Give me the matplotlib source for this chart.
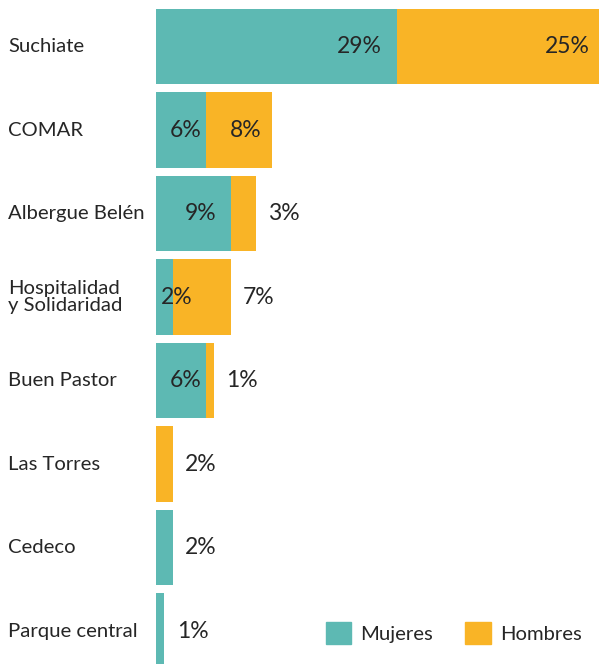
import numpy as np
import matplotlib.pyplot as plt
import matplotlib.transforms as mtransforms
from matplotlib.patches import Patch

plt.rcParams['font.family'] = ['Lato', 'DejaVu Sans']

categorias = ['Suchiate', 'COMAR', 'Albergue Belén', 'Hospitalidad\ny Solidaridad',
              'Buen Pastor', 'Las Torres', 'Cedeco', 'Parque central']
mujeres = [29, 6, 9, 2, 6, 0, 2, 1]
hombres = [25, 8, 3, 7, 1, 2, 0, 0]

teal = '#5DB9B3'
naranja = '#F9B426'
texto = '#262626'

fig = plt.figure(figsize=(5.99, 6.64), dpi=100)
ax = fig.add_axes([156 / 599, 0, 443 / 599, 1])

y = np.arange(len(categorias))
ax.barh(y, mujeres, height=0.9, color=teal)
ax.barh(y, hombres, left=mujeres, height=0.9, color=naranja)

ax.set_xlim(0, 443 / 8.3)
ax.set_ylim(7.395, -0.557)
ax.axis('off')

fs_val = 16.5
for i in range(len(categorias)):
    m, h = mujeres[i], hombres[i]
    # etiqueta mujeres
    if m > 0:
        if m >= 5:
            ax.text(m - min(4.5, 0.4 * m), i, f'{m}%', ha='center', va='center',
                    fontsize=fs_val, color=texto)
        elif h > 0:
            ax.text(m + 0.5, i, f'{m}%', ha='center', va='center',
                    fontsize=fs_val, color=texto)
        else:
            ax.text(m + 3.4, i, f'{m}%', ha='center', va='center',
                    fontsize=fs_val, color=texto)
    # etiqueta hombres
    if h > 0:
        fin = m + h
        if h >= 8:
            ax.text(fin - min(4.5, 0.4 * h), i, f'{h}%', ha='center', va='center',
                    fontsize=fs_val, color=texto)
        else:
            ax.text(fin + 3.4, i, f'{h}%', ha='center', va='center',
                    fontsize=fs_val, color=texto)

trans = mtransforms.blended_transform_factory(fig.transFigure, ax.transData)
for i, cat in enumerate(categorias):
    ax.text(8 / 599, i, cat, transform=trans, ha='left', va='center',
            fontsize=14.6, color=texto, linespacing=1.0)

handles = [Patch(color=teal, label='Mujeres'), Patch(color=naranja, label='Hombres')]
fig.legend(handles=handles, loc='center', ncol=2,
           bbox_to_anchor=((325 + 582) / 2 / 599, 1 - 633 / 664),
           frameon=False, fontsize=14.6, handlelength=1.25, handleheight=1.25,
           handletextpad=0.45, columnspacing=1.6, labelcolor=texto)

fig.savefig('out.png', dpi=100)
